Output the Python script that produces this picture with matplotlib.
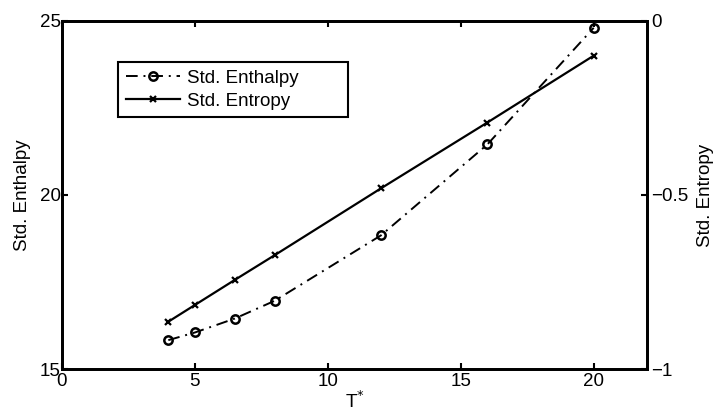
import matplotlib
matplotlib.use('Agg')
import matplotlib.pyplot as plt

plt.rcParams['font.family'] = ['Liberation Sans', 'DejaVu Sans']
plt.rcParams['font.size'] = 13.5

t_star = [4, 5, 6.5, 8, 12, 16, 20]
enthalpy = [15.83, 16.05, 16.45, 16.96, 18.84, 21.45, 24.8]
entropy = [-0.864, -0.816, -0.744, -0.673, -0.481, -0.292, -0.100]

fig = plt.figure(figsize=(7.15, 4.17), dpi=100)
ax_left = fig.add_axes([0.0867, 0.115, 0.818, 0.835])
ax_right = ax_left.twinx()

line_h, = ax_left.plot(t_star, enthalpy, color='black', linestyle=(0, (6, 3, 1, 3)),
                       linewidth=1.4, marker='o', markersize=6, markerfacecolor='none',
                       markeredgewidth=1.8, label='Std. Enthalpy')
line_s, = ax_right.plot(t_star, entropy, color='black', linestyle='-', linewidth=1.6,
                        marker='x', markersize=5, markeredgewidth=1.6, label='Std. Entropy')

ax_left.set_xlim(0, 22)
ax_left.set_ylim(15, 25)
ax_right.set_ylim(-1, 0)
ax_left.set_xticks([0, 5, 10, 15, 20])
ax_left.set_yticks([15, 20, 25])
ax_right.set_yticks([-1, -0.5, 0])
ax_right.set_yticklabels(['\u22121', '\u22120.5', '0'])

ax_left.set_xlabel('T$^{*}$', labelpad=0)
ax_left.set_ylabel('Std. Enthalpy', labelpad=6)
ax_right.set_ylabel('Std. Entropy', labelpad=6)

for ax in [ax_left, ax_right]:
    for spine in ax.spines.values():
        spine.set_linewidth(2)
    ax.tick_params(direction='in', length=4, width=1.5, labelsize=13.5)
ax_left.tick_params(axis='y', pad=1)
ax_left.tick_params(axis='x', top=True, pad=3)
ax_right.tick_params(axis='y', pad=3)

# legend box stretched to the width of the original
leg = ax_left.legend(handles=[line_h, line_s], loc='upper left',
                     bbox_to_anchor=(0.096, 0.5, 0.393, 0.382), mode='expand',
                     fancybox=False, framealpha=1, edgecolor='black', borderaxespad=0,
                     handlelength=2.9, handletextpad=0.37, labelspacing=0.33,
                     borderpad=0.4, fontsize=13.5)
leg.get_frame().set_linewidth(1.5)

fig.savefig('out.png', dpi=100)
